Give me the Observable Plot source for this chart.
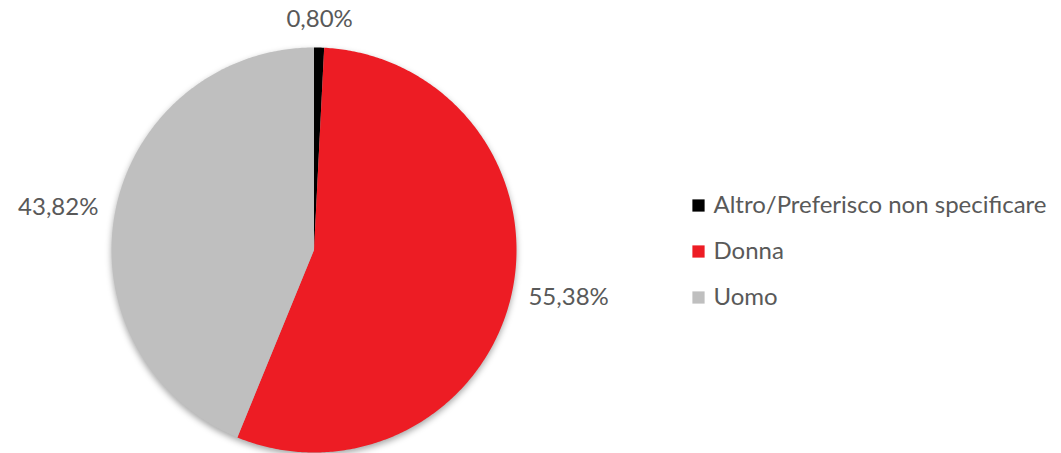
<!DOCTYPE html>
<html>
<head>
<meta charset="utf-8">
<script src="https://cdn.jsdelivr.net/npm/d3@7"></script>
<script src="https://cdn.jsdelivr.net/npm/@observablehq/plot@0.6"></script>
<style>
  html, body { margin: 0; padding: 0; background: #fff; }
  #wrap { position: relative; width: 1061px; height: 453px; font-family: Lato, "Open Sans", sans-serif; }
  #pie, #legend { position: absolute; }
  #pie { left: 0; top: 0; }
  #legend { left: 680px; top: 180px; }
  #pie g[aria-label="line"] { filter: drop-shadow(0px 3px 3px rgba(0,0,0,0.35)); }
</style>
</head>
<body>
<div id="wrap"><div id="pie"></div><div id="legend"></div></div>
<script>
const categories = ["Altro/Preferisco non specificare", "Donna", "Uomo"];
const values = [0.80, 55.38, 43.82];
const labels = ["0,80%", "55,38%", "43,82%"];
const colors = ["#000000", "#ED1C24", "#BFBFBF"];

const data = categories.map((c, i) => ({category: c, value: values[i], label: labels[i]}));
const arcs = d3.pie().sort(null).value(d => d.value)(data);

// slice outlines in unit-circle coordinates
const slicePoints = [];
for (const a of arcs) {
  const c = a.data.category;
  slicePoints.push({category: c, x: 0, y: 0});
  const n = Math.max(2, Math.ceil((a.endAngle - a.startAngle) / 0.01));
  for (let k = 0; k <= n; k++) {
    const t = a.startAngle + (a.endAngle - a.startAngle) * k / n;
    slicePoints.push({category: c, x: Math.sin(t), y: Math.cos(t)});
  }
  slicePoints.push({category: c, x: 0, y: 0});
}

const labelPts = arcs.map(a => {
  const m = (a.startAngle + a.endAngle) / 2;
  const s = Math.sin(m), co = Math.cos(m);
  const anchor = s > 0.3 ? "start" : s < -0.3 ? "end" : "middle";
  const r = anchor === "middle" ? 1.1 : 1.085;
  return {label: a.data.label, x: s * r, y: co * r, anchor};
});

const colorScale = {domain: categories, range: colors};
const textStyle = {fill: "#595959", fontSize: 24, fontFamily: "Lato, 'Open Sans', sans-serif"};

const pie = Plot.plot({
  width: 1061, height: 453,
  margin: 0,
  x: {domain: [-1, 1], range: [111, 516], axis: null},
  y: {domain: [-1, 1], range: [452, 47], axis: null},
  color: colorScale,
  style: {background: "transparent", overflow: "visible"},
  marks: [
    Plot.line(slicePoints, {x: "x", y: "y", z: "category", fill: "category", stroke: null, curve: "linear"}),
    Plot.text(labelPts.filter(d => d.anchor === "start"), {x: "x", y: "y", text: "label", textAnchor: "start", ...textStyle}),
    Plot.text(labelPts.filter(d => d.anchor === "end"), {x: "x", y: "y", text: "label", textAnchor: "end", ...textStyle}),
    Plot.text(labelPts.filter(d => d.anchor === "middle"), {x: "x", y: "y", text: "label", textAnchor: "middle", lineAnchor: "bottom", ...textStyle})
  ]
});
document.getElementById("pie").appendChild(pie);

const legend = Plot.plot({
  width: 381, height: 140,
  margin: 0,
  x: {domain: [0, 1], range: [18, 40], axis: null},
  y: {type: "point", domain: categories, range: [24, 117], padding: 0, axis: null},
  color: colorScale,
  style: {background: "transparent", overflow: "visible"},
  marks: [
    Plot.dot(data, {x: () => 0, y: "category", symbol: "square", r: 6.9, fill: "category", stroke: null}),
    Plot.text(data, {x: () => 0, y: "category", text: "category", textAnchor: "start", dx: 15, ...textStyle})
  ]
});
document.getElementById("legend").appendChild(legend);
</script>
</body>
</html>
